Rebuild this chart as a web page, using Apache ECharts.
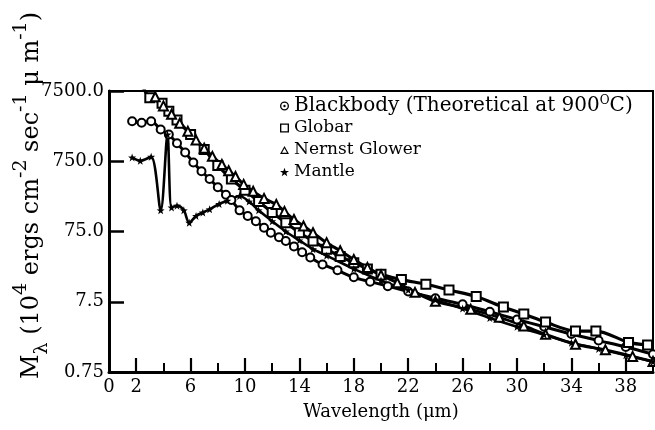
<!DOCTYPE html>
<html>
<head>
<meta charset="utf-8">
<script src="https://cdn.jsdelivr.net/npm/echarts@6/dist/echarts.min.js"></script>
<style>
  html, body { margin: 0; padding: 0; background: #fff; }
  #chart { width: 655px; height: 430px; }
</style>
</head>
<body>
<div id="chart"></div>
<script>
// wavelength (um) and M_lambda (10^4 ergs cm^-2 sec^-1 um^-1)
const blackbodyX = [1.7, 2.4, 3.1, 3.8, 4.4, 5.0, 5.6, 6.2, 6.8, 7.4, 8.0, 8.6, 9.0, 9.6, 10.2, 10.8, 11.4, 11.9, 12.5, 13.0, 13.6, 14.2, 14.8, 15.7, 16.8, 18.0, 19.2, 20.5, 22, 24, 26, 28, 30, 32, 34, 36, 38, 40]
const blackbodyY = [2790, 2650, 2790, 2120, 1800, 1350, 1000, 720, 540, 420, 320, 250, 210, 150, 125, 105, 85, 72, 62, 55, 46, 38, 32, 25.5, 21, 16.7, 14.5, 12.5, 10.5, 8.4, 6.9, 5.4, 4.2, 3.3, 2.6, 2.1, 1.7, 1.34]

const globarX = [2.5, 3.0, 3.9, 4.4, 5.0, 6.0, 7.0, 8.0, 9.0, 10.0, 11.0, 12.0, 13.0, 14.0, 15.0, 16.0, 17.0, 18.0, 19.0, 20.0, 21.5, 23.3, 25.0, 27.0, 29.0, 30.5, 32.1, 34.3, 35.8, 38.2, 39.6]
const globarY = [8500, 6000, 5000, 3870, 2900, 1800, 1100, 650, 420, 290, 200, 140, 100, 72, 55, 42, 33, 27, 22, 18.5, 15.5, 13.3, 11, 8.9, 6.3, 5.0, 3.85, 2.87, 2.87, 1.98, 1.82]

const nernstX = [3.4, 4.0, 4.6, 5.2, 5.8, 6.4, 7.0, 7.6, 8.3, 8.8, 9.3, 9.9, 10.6, 11.4, 12.3, 12.9, 13.6, 14.3, 15.0, 16.0, 17.0, 18.0, 19.0, 20.0, 21.2, 22.5, 24.0, 26.6, 28.7, 30.5, 32.1, 34.3, 36.5, 38.5, 40]
const nernstY = [6200, 4600, 3500, 2600, 2000, 1500, 1150, 880, 675, 550, 456, 351, 280, 222, 182, 145, 111, 90, 72, 52, 40, 30, 23, 18, 14, 10.2, 7.6, 5.85, 4.5, 3.4, 2.58, 1.86, 1.55, 1.25, 1.06]

const mantleX = [1.7, 2.3, 3.1, 3.8, 4.3, 4.6, 5.0, 5.5, 5.9, 6.4, 6.9, 7.4, 8.1, 8.7, 9.6, 10.3, 11.0, 12.0, 13.0, 14.0, 15.0, 16.0, 18.0, 20.0, 22.0, 24.0, 26.0, 28.0, 30.0, 32.0, 34.0, 36.0, 38.0, 40.0]
const mantleY = [850, 760, 870, 150, 1800, 165, 175, 150, 100, 125, 140, 155, 185, 205, 240, 200, 150, 105, 75, 56, 42, 34, 22, 15, 11, 8, 6, 4.4, 3.3, 2.55, 1.95, 1.6, 1.3, 1.05]

const seriesNames = ['Blackbody', 'Globar', 'Nernst Glower', 'Mantle']
const yTickLabels = ['0.75', '7.5', '75.0', '750.0', '7500.0']
const xTickCats = ['0', '2', '4', '6', '8', '10', '12', '14', '16', '18', '20', '22', '24', '26', '28', '30', '32', '34', '36', '38', '40']

// the y axis runs 0.75 .. 7500, so plot in units of 0.75 on a plain log axis
const yUnit = 0.75
const pairs = (xs, ys) => xs.map((x, i) => [x, ys[i] / yUnit])

const font = 'DejaVu Serif'
const starPath = 'path://M0,-10 L2.4,-3.2 L9.5,-3.1 L3.8,1.2 L5.9,8.1 L0,4 L-5.9,8.1 L-3.8,1.2 L-9.5,-3.1 L-2.4,-3.2 Z'
const dotCirclePath = 'path://M0,-10 A10,10 0 1,1 0,10 A10,10 0 1,1 0,-10 Z M0,-7 A7,7 0 1,0 0,7 A7,7 0 1,0 0,-7 Z M0,-2.6 A2.6,2.6 0 1,1 0,2.6 A2.6,2.6 0 1,1 0,-2.6 Z'
const squarePath = 'path://M-10,-10 L10,-10 L10,10 L-10,10 Z M-7,-7 L-7,7 L7,7 L7,-7 Z'
const trianglePath = 'path://M0,-10 L10,8 L-10,8 Z M0,-5 L-5.5,5 L5.5,5 Z'

const dom = document.getElementById('chart')
const myChart = echarts.init(dom, null, { renderer: 'canvas' })

const lineSeries = (name, data, symbol, size, width) => ({
  name,
  type: 'line',
  data,
  symbol,
  symbolSize: size,
  showAllSymbol: true,
  smooth: 0.3,
  lineStyle: { color: '#000', width },
  itemStyle: { color: '#000', borderWidth: 1.6 },
  emphasis: { disabled: true },
  z: 3
})

const option = {
  animation: false,
  backgroundColor: '#fff',
  grid: {
    left: 109,
    right: 2,
    top: 91,
    bottom: 58,
    show: true,
    borderColor: '#000',
    borderWidth: 2,
    outerBoundsMode: 'none'
  },
  legend: {
    orient: 'vertical',
    left: 275,
    top: 90,
    itemWidth: 9,
    itemHeight: 9,
    itemGap: 0,
    selectedMode: false,
    itemStyle: { color: '#000', borderWidth: 0 },
    data: [
      { name: seriesNames[0], icon: dotCirclePath },
      { name: seriesNames[1], icon: squarePath },
      { name: seriesNames[2], icon: trianglePath },
      { name: seriesNames[3], icon: starPath }
    ],
    formatter: (name) => name === 'Blackbody' ? '{wide|Blackbody (Theoretical at 900}{sup|O}{wide|C)}' : name,
    textStyle: {
      fontFamily: font,
      fontSize: 17,
      color: '#000',
      lineHeight: 22,
      rich: {
        wide: { fontFamily: font, fontSize: 20, color: '#000', lineHeight: 22 },
        sup: { fontFamily: font, fontSize: 12, color: '#000', verticalAlign: 'top', lineHeight: 13 }
      }
    }
  },
  xAxis: [
    {
      type: 'value',
      min: 0,
      max: 40,
      interval: 2,
      name: 'Wavelength (\u03bcm)',
      nameLocation: 'middle',
      nameGap: 31,
      nameTextStyle: { fontFamily: font, fontSize: 18, color: '#000' },
      axisLine: { lineStyle: { color: '#000', width: 3 } },
      axisTick: { inside: true, length: 9, lineStyle: { color: '#000', width: 2 } },
      axisLabel: {
        fontFamily: font,
        fontSize: 18,
        color: '#000',
        margin: 6,
        formatter: (v) => (v === 0 || v % 4 === 2) ? String(v) : ''
      },
      splitLine: { show: false }
    },
    {
      // taller ticks at the labelled wavelengths
      type: 'category',
      data: xTickCats,
      boundaryGap: false,
      position: 'bottom',
      axisLine: { show: false },
      axisLabel: { show: false },
      axisTick: {
        inside: true,
        length: 14,
        interval: (i, v) => Number(v) % 4 === 2,
        lineStyle: { color: '#000', width: 2.2 }
      },
      splitLine: { show: false }
    }
  ],
  yAxis: {
    type: 'log',
    logBase: 10,
    min: 1,
    max: 10000,
    name: 'M{sub|\u03bb} (10{sup|4} ergs cm{sup|-2} sec{sup|-1} \u03bc m{sup|-1})',
    nameLocation: 'middle',
    nameGap: 57,
    nameMoveOverlap: false,
    nameTextStyle: {
      fontFamily: font,
      fontSize: 24,
      color: '#000',
      lineHeight: 40,
      padding: [0, 0, 0, 72],
      rich: {
        sup: { fontFamily: font, fontSize: 19, color: '#000', verticalAlign: 'top', lineHeight: 22 },
        sub: { fontFamily: font, fontSize: 19, color: '#000', verticalAlign: 'bottom', lineHeight: 26 }
      }
    },
    axisLine: { show: true, lineStyle: { color: '#000', width: 3 } },
    axisTick: { show: true, inside: true, length: 15, lineStyle: { color: '#000', width: 2.5 } },
    axisLabel: {
      fontFamily: font,
      fontSize: 18,
      color: '#000',
      margin: 5,
      formatter: (v) => yTickLabels[Math.round(Math.log10(v))]
    },
    splitLine: { show: false },
    minorTick: { show: false }
  },
  series: [
    lineSeries(seriesNames[0], pairs(blackbodyX, blackbodyY), 'emptyCircle', 8, 3),
    lineSeries(seriesNames[1], pairs(globarX, globarY), 'emptyRect', 9, 3.2),
    lineSeries(seriesNames[2], pairs(nernstX, nernstY), 'emptyTriangle', 9, 3),
    lineSeries(seriesNames[3], pairs(mantleX, mantleY), starPath, 8, 2.6)
  ]
}

myChart.setOption(option)
</script>
</body>
</html>
